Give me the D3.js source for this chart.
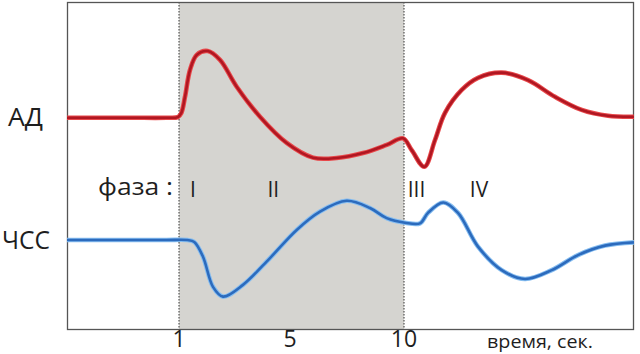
<!DOCTYPE html>
<html><head><meta charset="utf-8">
<script src="https://cdn.jsdelivr.net/npm/d3@7"></script>
<style>html,body{margin:0;padding:0;background:#fff;}svg{display:block;}</style>
</head><body>
<script>
// time (seconds, schematic) for each sampled point
const adTime = [-3.5, -1.0, 0.5, 0.95, 1.08, 1.216, 1.396, 1.638, 2.034, 2.477, 3.079, 3.919, 4.881, 6.009, 7.048, 8.202, 9.241, 9.956, 10.308, 10.812, 11.24, 11.64, 12.308, 12.96, 13.908, 14.96, 16.04, 17.108, 18.16, 19.2];
const adValue = [64.6, 64.6, 64.6, 64.8, 66.0, 71.0, 79.2, 83.8, 85.0, 82.3, 74.1, 64.9, 56.9, 52.4, 52.3, 53.8, 56.3, 58.3, 54.7, 49.6, 57.8, 66.1, 73.1, 76.8, 78.4, 76.1, 71.0, 67.0, 65.2, 64.9];
const hrTime = [-3.5, -1.0, 0.5, 1.3, 1.55, 1.865, 2.225, 2.586, 3.306, 4.279, 5.294, 6.316, 7.487, 8.509, 9.241, 10.04, 10.64, 10.96, 11.572, 12.16, 12.96, 13.908, 14.84, 15.908, 16.96, 18.04, 19.2];
const hrValue = [27.2, 27.2, 27.2, 27.2, 26.6, 22.1, 12.9, 9.9, 13.5, 21.7, 30.3, 35.9, 39.2, 37.0, 33.9, 32.5, 32.3, 35.5, 38.7, 35.5, 25.2, 18.0, 15.3, 18.0, 22.6, 25.5, 26.5];
const tickValues = [1, 5, 10];
const tickLabels = ["1", "5", "10"];
const phaseStart = 1, phaseEnd = 10;
const phaseLabels = ["I", "II", "III", "IV"];
const phaseLabelTime = [1.5, 4.4, 10.5, 13.0];
const seriesNames = ["АД", "ЧСС"];

(function () {
const W = 640, H = 354;
const svg = d3.select("body").append("svg").attr("width", W).attr("height", H);
const mLeft = 67, mRight = 634, mTop = 2, mBottom = 329;

const x = d3.scaleLinear().domain([-3.5, 1, 5, 10, 19.2]).range([mLeft, 179, 290, 404, mRight]);
const y = d3.scaleLinear().domain([0, 100]).range([mBottom, mTop]);

// shaded phase region
svg.append("rect").attr("x", x(phaseStart)).attr("y", mTop)
  .attr("width", x(phaseEnd) - x(phaseStart)).attr("height", mBottom - mTop)
  .attr("fill", "#d5d4d0");

// dotted phase boundaries
[phaseStart, phaseEnd].forEach(t => {
  svg.append("line").attr("x1", x(t)).attr("x2", x(t)).attr("y1", mTop).attr("y2", mBottom)
    .attr("stroke", "#333").attr("stroke-width", 1).attr("stroke-dasharray", "1.5,1.5");
});

// frame
svg.append("rect").attr("x", mLeft + 0.5).attr("y", mTop + 0.5)
  .attr("width", mRight - mLeft - 1).attr("height", mBottom - mTop)
  .attr("fill", "none").attr("stroke", "#555").attr("stroke-width", 1.3);

const line = d3.line().x(d => x(d[0])).y(d => y(d[1])).curve(d3.curveCatmullRom.alpha(0.5));
const adData = adTime.map((t, i) => [t, adValue[i]]);
const hrData = hrTime.map((t, i) => [t, hrValue[i]]);

function drawSeries(data, halo, core) {
  svg.append("path").attr("d", line(data)).attr("fill", "none")
    .attr("stroke", halo).attr("stroke-width", 4.6).attr("stroke-linejoin", "round");
  svg.append("path").attr("d", line(data)).attr("fill", "none")
    .attr("stroke", core).attr("stroke-width", 2.6).attr("stroke-linejoin", "round");
}
drawSeries(adData, "#e8484a", "#b01722");
drawSeries(hrData, "#86bdf0", "#2c6bbd");

const font = "'Open Sans', 'Noto Sans', sans-serif";
const txt = "#1e1e1e";

// axis tick labels
tickValues.forEach((t, i) => {
  svg.append("text").attr("x", x(t)).attr("y", 347).attr("text-anchor", "middle")
    .attr("font-family", font).attr("font-size", 23).attr("fill", txt).text(tickLabels[i]);
});
svg.append("text").attr("x", 487).attr("y", 348).attr("font-family", font)
  .attr("font-size", 18).attr("fill", txt)
  .attr("textLength", 106).attr("lengthAdjust", "spacingAndGlyphs").text("время, сек.");

// series labels
svg.append("text").attr("x", 8).attr("y", 126).attr("font-family", font).attr("font-size", 25)
  .attr("fill", txt).attr("textLength", 35).attr("lengthAdjust", "spacingAndGlyphs").text(seriesNames[0]);
svg.append("text").attr("x", 2).attr("y", 249).attr("font-family", font).attr("font-size", 26)
  .attr("fill", txt).attr("textLength", 48).attr("lengthAdjust", "spacingAndGlyphs").text(seriesNames[1]);

// phase labels
svg.append("text").attr("x", 98).attr("y", 195).attr("font-family", font).attr("font-size", 24)
  .attr("fill", txt).attr("textLength", 75).attr("lengthAdjust", "spacingAndGlyphs").text("фаза :");
phaseLabels.forEach((p, i) => {
  svg.append("text").attr("x", x(phaseLabelTime[i])).attr("y", 197).attr("text-anchor", "middle")
    .attr("font-family", font).attr("font-size", 21).attr("fill", txt).text(p);
});
})();
</script>
</body></html>
